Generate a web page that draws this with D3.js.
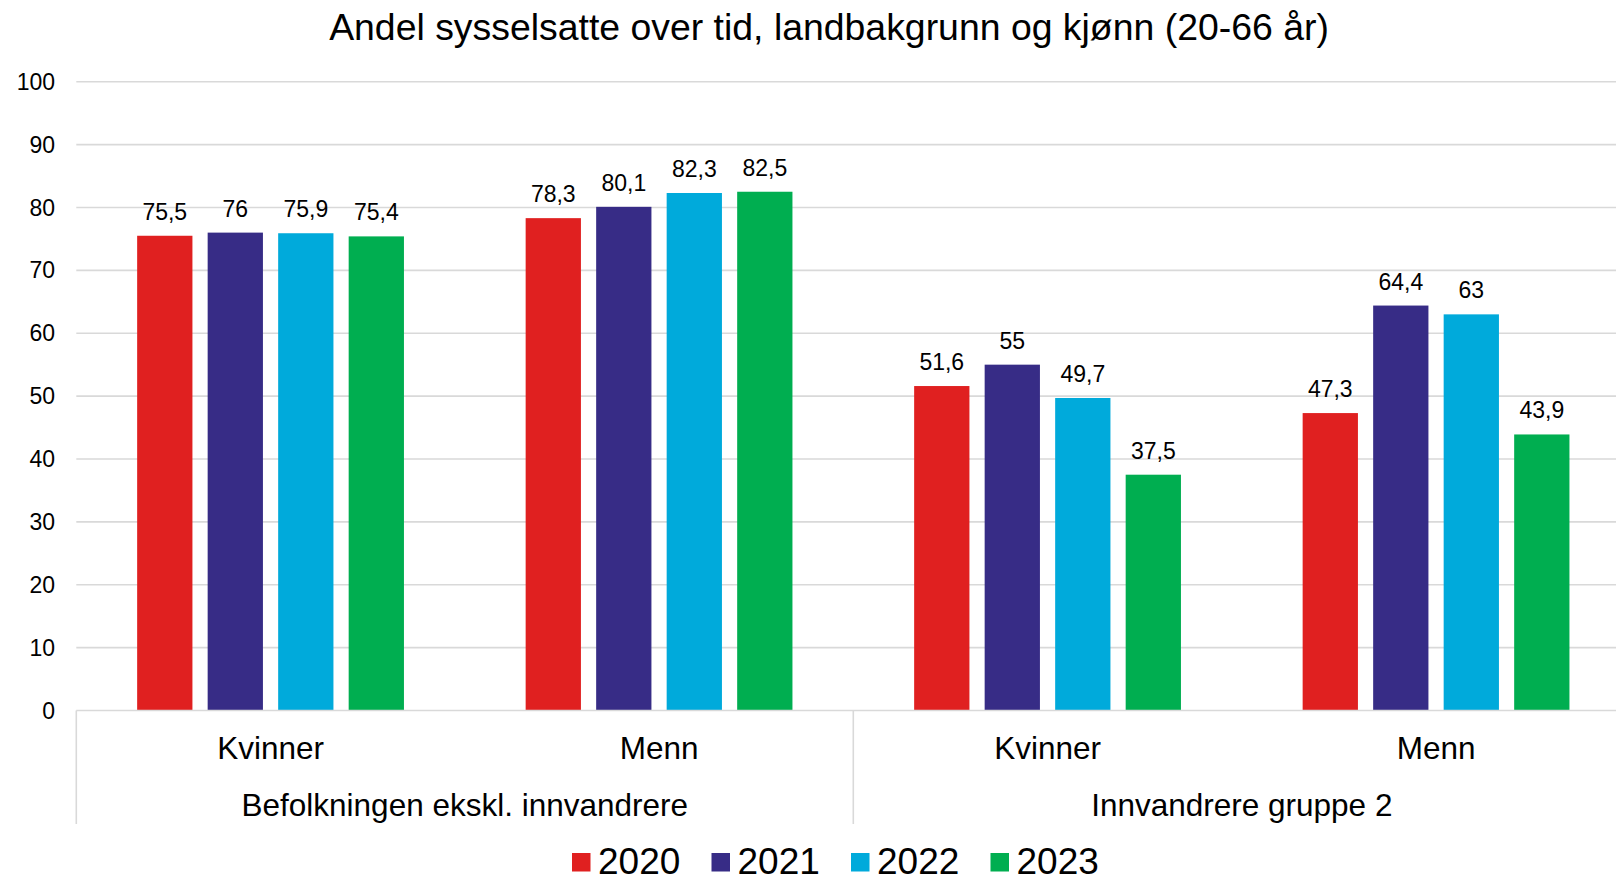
<!DOCTYPE html>
<html>
<head>
<meta charset="utf-8">
<script src="https://cdn.jsdelivr.net/npm/d3@7"></script>
<style>
  body { margin: 0; background: #fff; }
  svg text { font-family: "Liberation Sans", Arial, sans-serif; fill: #000; }
</style>
</head>
<body>
<script>
// data
var title = "Andel sysselsatte over tid, landbakgrunn og kjønn (20-66 år)";
var groups = ["Befolkningen ekskl. innvandrere", "Innvandrere gruppe 2"];
var categories = ["Kvinner", "Menn", "Kvinner", "Menn"];
var years = ["2020", "2021", "2022", "2023"];
var v2020 = [75.5, 78.3, 51.6, 47.3];
var v2021 = [76, 80.1, 55, 64.4];
var v2022 = [75.9, 82.3, 49.7, 63];
var v2023 = [75.4, 82.5, 37.5, 43.9];
var yTicks = [0, 10, 20, 30, 40, 50, 60, 70, 80, 90, 100];
var colors = ["#e02020", "#372c86", "#00aadb", "#00ae50"];

var series = [v2020, v2021, v2022, v2023];
var width = 1616, height = 881;

var svg = d3.select("body").append("svg")
    .attr("width", width)
    .attr("height", height);

var y = d3.scaleLinear().domain([0, 100]).range([710.5, 81.7]);

// plot runs past the right edge of the picture (it is cropped there)
var x0 = d3.scaleBand().domain(d3.range(categories.length)).range([76.3, 1630.3]).padding(0);
var x1 = d3.scaleBand().domain(years).range([-133.4, 133.4]).paddingInner(0.216).paddingOuter(0);

var fmt = function(v){ return String(v).replace(".", ","); };

// title
svg.append("text")
  .attr("x", 829).attr("y", 40)
  .attr("text-anchor", "middle")
  .style("font-size", "37.4px")
  .text(title);

// grid
svg.append("g").selectAll("line")
  .data(yTicks.filter(function(d){ return d > 0; }))
  .enter().append("line")
  .attr("x1", 76.3).attr("x2", width)
  .attr("y1", function(d){ return y(d); })
  .attr("y2", function(d){ return y(d); })
  .style("stroke", "#d9d9d9").style("stroke-width", 1.6);

// y tick labels
svg.append("g").selectAll("text")
  .data(yTicks)
  .enter().append("text")
  .attr("x", 55)
  .attr("y", function(d){ return y(d); })
  .attr("dy", "0.35em")
  .attr("text-anchor", "end")
  .style("font-size", "23px")
  .text(function(d){ return d; });

// bars
var rows = [];
series.forEach(function(s, si){
  s.forEach(function(v, ci){ rows.push({c: ci, year: years[si], s: si, v: v}); });
});

var bars = svg.append("g");
bars.selectAll("rect")
  .data(rows)
  .enter().append("rect")
  .attr("x", function(d){ return x0(d.c) + x0.bandwidth()/2 + x1(d.year); })
  .attr("width", x1.bandwidth())
  .attr("y", function(d){ return y(d.v); })
  .attr("height", function(d){ return y(0) - y(d.v); })
  .style("fill", function(d){ return colors[d.s]; });

bars.selectAll("text")
  .data(rows)
  .enter().append("text")
  .attr("x", function(d){ return x0(d.c) + x0.bandwidth()/2 + x1(d.year) + x1.bandwidth()/2; })
  .attr("y", function(d){ return y(d.v) - 16; })
  .attr("text-anchor", "middle")
  .style("font-size", "23px")
  .text(function(d){ return fmt(d.v); });

// baseline and category dividers
svg.append("line")
  .attr("x1", 76.3).attr("x2", width)
  .attr("y1", y(0)).attr("y2", y(0))
  .style("stroke", "#d9d9d9").style("stroke-width", 1.6);

var dividers = [0, 2, 4];
svg.append("g").selectAll("line")
  .data(dividers)
  .enter().append("line")
  .attr("x1", function(d){ return d < 4 ? x0(d) : x0.range()[1]; })
  .attr("x2", function(d){ return d < 4 ? x0(d) : x0.range()[1]; })
  .attr("y1", y(0)).attr("y2", 824)
  .style("stroke", "#d9d9d9").style("stroke-width", 1.6);

// category labels
svg.append("g").selectAll("text")
  .data(categories)
  .enter().append("text")
  .attr("x", function(d, i){ return x0(i) + x0.bandwidth()/2; })
  .attr("y", 759)
  .attr("text-anchor", "middle")
  .style("font-size", "31.5px")
  .text(function(d){ return d; });

// group labels
svg.append("g").selectAll("text")
  .data(groups)
  .enter().append("text")
  .attr("x", function(d, i){ return x0(i*2) + x0.bandwidth(); })
  .attr("y", 816)
  .attr("text-anchor", "middle")
  .style("font-size", "31.5px")
  .text(function(d){ return d; });

// legend (sits at the bottom edge, nudged up so the text is not clipped)
var legend = svg.append("g").selectAll("g")
  .data(years)
  .enter().append("g")
  .attr("transform", function(d, i){ return "translate(" + (572 + i*139.5) + ",853)"; });

legend.append("rect")
  .attr("width", 18.5).attr("height", 18.5)
  .style("fill", function(d, i){ return colors[i]; });

legend.append("text")
  .attr("x", 26).attr("y", 21)
  .style("font-size", "37px")
  .text(function(d){ return d; });
</script>
</body>
</html>
